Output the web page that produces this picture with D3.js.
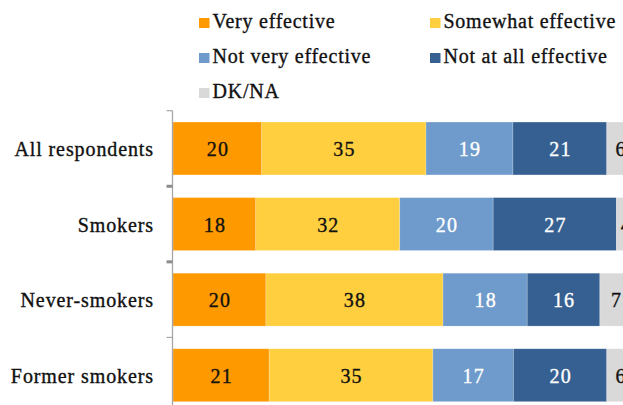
<!DOCTYPE html>
<html>
<head>
<meta charset="utf-8">
<script src="https://cdn.jsdelivr.net/npm/d3@7"></script>
<style>
  html, body { margin: 0; padding: 0; background: #fff; }
  svg { display: block; }
  text { font-family: "Liberation Serif", "Times New Roman", serif; }
</style>
</head>
<body>
<svg id="chart" width="623" height="405"></svg>
<script>
// ---- Data ----
const categories = ["All respondents", "Smokers", "Never-smokers", "Former smokers"];
const seriesNames = ["Very effective", "Somewhat effective", "Not very effective", "Not at all effective", "DK/NA"];
const veryEffective     = [19.3, 18.0, 20.2, 20.9];
const somewhatEffective = [35.7, 31.3, 38.5, 35.6];
const notVeryEffective  = [18.9, 20.3, 18.3, 17.5];
const notAtAllEffective = [20.4, 26.8, 15.8, 20.3];
const dkna              = [6, 4, 7, 6];
// printed data labels
const veryLabels     = ["20", "18", "20", "21"];
const somewhatLabels = ["35", "32", "38", "35"];
const notVeryLabels  = ["19", "20", "18", "17"];
const notAtAllLabels = ["21", "27", "16", "20"];
const dkLabels       = ["6", "4", "7", "6"];

const seriesValues = [veryEffective, somewhatEffective, notVeryEffective, notAtAllEffective, dkna];
const seriesLabels = [veryLabels, somewhatLabels, notVeryLabels, notAtAllLabels, dkLabels];
const colors = ["#FF9900", "#FFCF40", "#6E9BCB", "#376092", "#D9D9D9"];
const labelColors = ["#111", "#111", "#fff", "#fff", "#111"];

// ---- Layout ----
const svg = d3.select("#chart");
const axisX = 172.5;
const x = d3.scaleLinear().domain([0, 100]).range([173, 633]);
const y = d3.scaleBand().domain(categories).range([110.7, 413]).paddingInner(0.3).paddingOuter(0.15);

const table = categories.map((c, i) => {
  const row = { category: c };
  seriesNames.forEach((s, k) => row[s] = seriesValues[k][i]);
  return row;
});
const stacked = d3.stack().keys(seriesNames)(table);

const g = svg.append("g");
stacked.forEach((layer, k) => {
  const lg = g.append("g");
  lg.selectAll("rect").data(layer).join("rect")
    .attr("x", d => x(d[0]))
    .attr("y", d => y(d.data.category))
    .attr("width", d => x(d[1]) - x(d[0]))
    .attr("height", y.bandwidth())
    .attr("fill", colors[k])
    .attr("stroke", "rgba(255,255,255,0.35)")
    .attr("stroke-width", 0.6);
  lg.selectAll("text").data(layer).join("text")
    .attr("x", d => (x(d[0]) + x(d[1])) / 2 + 0.6)
    .attr("y", d => y(d.data.category) + y.bandwidth() / 2 + 7.5)
    .attr("text-anchor", "middle")
    .attr("font-size", "20px")
    .attr("letter-spacing", "1.2px")
    .attr("fill", labelColors[k])
    .attr("stroke", labelColors[k])
    .attr("stroke-width", 0.35)
    .text((d, i) => seriesLabels[k][i]);
});

// ---- Vertical category axis ----
const step = y.step();
const boundaries = categories.map(c => y(c) - step * y.paddingInner() / 2 - (c === categories[0] ? step * (y.paddingOuter() - y.paddingInner() / 2) : 0));
svg.append("line")
  .attr("x1", axisX).attr("x2", axisX)
  .attr("y1", y.range()[0]).attr("y2", y.range()[1])
  .attr("stroke", "#A6A6A6").attr("stroke-width", 1.3);
svg.selectAll(".tick").data(boundaries).join("line")
  .attr("class", "tick")
  .attr("x1", axisX - 6).attr("x2", axisX)
  .attr("y1", d => d).attr("y2", d => d)
  .attr("stroke", (d, i) => (i === 1 || i === 2) ? "#8C8C8C" : "#A6A6A6")
  .attr("stroke-width", (d, i) => (i === 1 || i === 2) ? 3 : 1.2);

svg.selectAll(".cat").data(categories).join("text")
  .attr("class", "cat")
  .attr("x", 154)
  .attr("y", d => y(d) + y.bandwidth() / 2 + 7.5)
  .attr("text-anchor", "end")
  .attr("font-size", "20px")
  .attr("letter-spacing", "0.9px")
  .attr("fill", "#111")
  .attr("stroke", "#111")
  .attr("stroke-width", 0.35)
  .text(d => d);

// ---- Legend ----
const legendPos = [
  { x: 199, y: 28 }, { x: 430, y: 28 },
  { x: 199, y: 63 }, { x: 430, y: 63 },
  { x: 199, y: 98 }
];
const leg = svg.selectAll(".leg").data(seriesNames).join("g").attr("class", "leg")
  .attr("transform", (d, i) => `translate(${legendPos[i].x},${legendPos[i].y})`);
leg.append("rect").attr("x", 0).attr("y", -10).attr("width", 10.5).attr("height", 10)
  .attr("fill", (d, i) => colors[i]);
leg.append("text").attr("x", 13.5).attr("y", 0)
  .attr("font-size", "20px")
  .attr("letter-spacing", "0.75px")
  .attr("fill", "#111")
  .attr("stroke", "#111")
  .attr("stroke-width", 0.35)
  .text(d => d);
</script>
</body>
</html>
